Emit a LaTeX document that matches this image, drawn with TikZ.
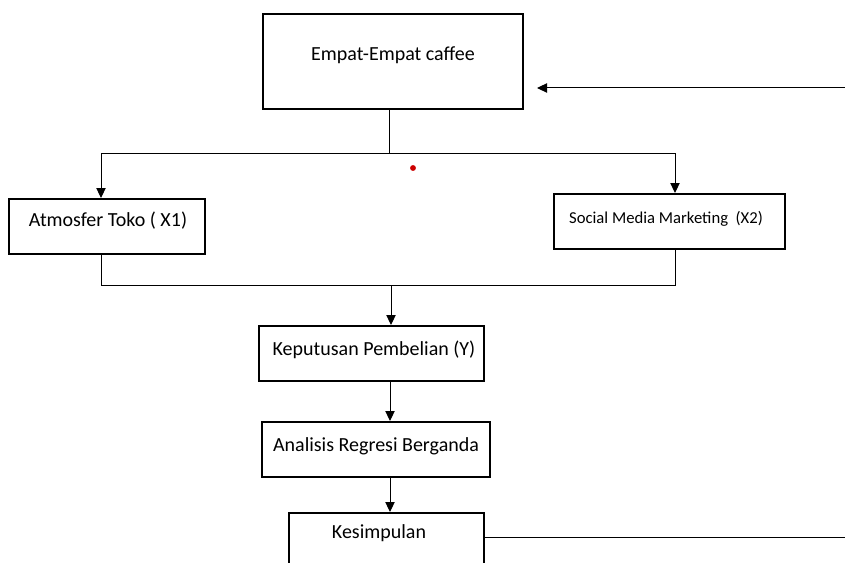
\documentclass[tikz,border=0pt]{standalone}
\usepackage{fontspec}
\setmainfont{Carlito}
\usetikzlibrary{fit,arrows.meta}
\begin{document}
\begin{tikzpicture}[x=0.75pt,y=-0.75pt,
  box/.style={draw=black, line width=1.5pt, inner sep=0pt},
  conn/.style={draw=black, line width=0.75pt},
  arr/.style={conn, -{Triangle[length=7.5pt,width=7pt]}},
  lbl/.style={inner sep=0pt, font=\fontsize{15}{18}\selectfont},
  lbls/.style={inner sep=0pt, font=\fontsize{12.5}{15}\selectfont}]
\useasboundingbox (0,0) rectangle (845,563);
\clip (0,0) rectangle (845,563);
\fill[white] (0,0) rectangle (845,563);
% boxes
\node[box, fit={(263,14) (523,109)}] (empat) {};
\node[box, fit={(9,199) (205,254)}] (atm) {};
\node[box, fit={(554,194) (785,249)}] (smm) {};
\node[box, fit={(259,326) (484,381)}] (kep) {};
\node[box, fit={(262,422) (490,477)}] (ana) {};
\node[box, fit={(289,513) (484,590)}] (kes) {};
% labels
\node[lbl] (tempat) at (393,55) {Empat-Empat caffee};
\node[lbl] (tatm) at (108,221) {Atmosfer Toko ( X1)};
\node[lbls] (tsmm) at (666,219) {Social Media Marketing\ \ (X2)};
\node[lbl] (tkep) at (374,350) {Keputusan Pembelian (Y)};
\node[lbl] (tana) at (376,446) {Analisis Regresi Berganda};
\node[lbl] (tkes) at (379,533) {Kesimpulan};
% coordinates
\coordinate (j1) at (389,154);
\coordinate (l1) at (101,154);
\coordinate (r1) at (675,154);
\coordinate (l2) at (101,285);
\coordinate (r2) at (675,285);
\coordinate (j2) at (391,285);
\coordinate (c1) at (390,0);
\coordinate (fa) at (537,88);
\coordinate (fr) at (846,88);
\coordinate (fb) at (846,537);
% connectors
\draw[conn] (empat.south -| j1) -- (j1);
\draw[arr] (j1) -- (l1) -- (atm.north -| l1);
\draw[arr] (j1) -- (r1) -- (smm.north -| r1);
\draw[conn] (atm.south -| l2) -- (l2) -- (r2) -- (smm.south -| r2);
\draw[arr] (j2) -- (kep.north -| j2);
\draw[arr] (kep.south -| c1) -- (ana.north -| c1);
\draw[arr] (ana.south -| c1) -- (kes.north -| c1);
\draw[arr] (fr) -- (fa);
\draw[conn] (kes.east |- fb) -- (fb);
% red dot
\fill[red!80!black] (413,168) circle (2.2pt) node (dot) {};
\end{tikzpicture}
\end{document}
